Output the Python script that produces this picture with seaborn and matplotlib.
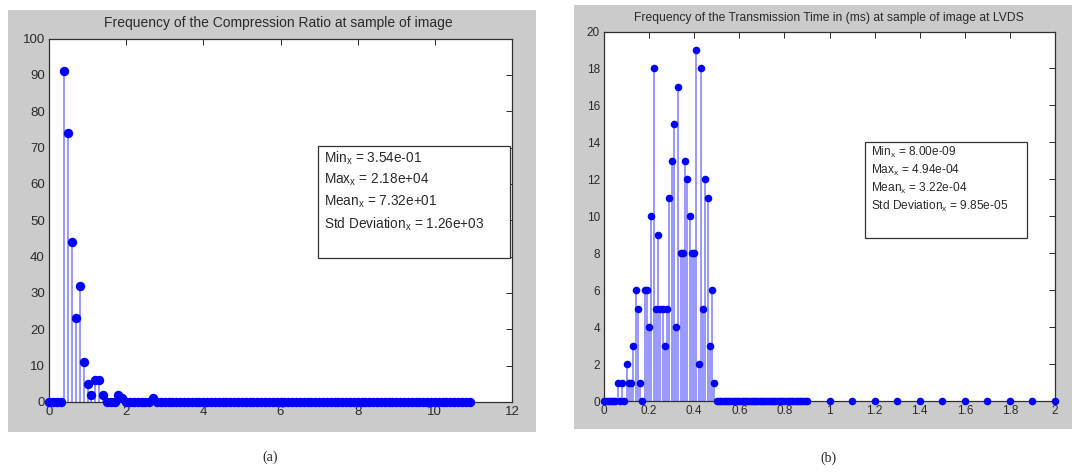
import numpy as np
import pandas as pd
import matplotlib
matplotlib.use("Agg")
import matplotlib.pyplot as plt
from matplotlib.patches import Rectangle
import seaborn as sns

# (a) frequency of the compression ratio, bins of 0.1 from 0 to 10.9
ratio_bins = np.round(np.arange(0, 10.95, 0.1), 1)
ratio_counts = [0, 0, 0, 0, 91, 74, 44, 23, 32, 11,
                5, 2, 6, 6, 2, 0, 0, 0, 2, 1,
                0, 0, 0, 0, 0, 0, 0, 1, 0, 0,
                0, 0, 0, 0, 0, 0, 0, 0, 0, 0,
                0, 0, 0, 0, 0, 0, 0, 0, 0, 0,
                0, 0, 0, 0, 0, 0, 0, 0, 0, 0,
                0, 0, 0, 0, 0, 0, 0, 0, 0, 0,
                0, 0, 0, 0, 0, 0, 0, 0, 0, 0,
                0, 0, 0, 0, 0, 0, 0, 0, 0, 0,
                0, 0, 0, 0, 0, 0, 0, 0, 0, 0,
                0, 0, 0, 0, 0, 0, 0, 0, 0, 0]
ratio_stats = ["Min$_{x}$ = 3.54e-01", "Max$_{x}$ = 2.18e+04",
               "Mean$_{x}$ = 7.32e+01", "Std Deviation$_{x}$ = 1.26e+03"]

# (b) frequency of the transmission time, fine bins up to 0.9 then coarse ones
time_bins = list(np.round(np.arange(0, 0.905, 0.01), 2)) + \
    [1.0, 1.1, 1.2, 1.3, 1.4, 1.5, 1.6, 1.7, 1.8, 1.9, 2.0]
time_counts = [0, 0, 0, 0, 0, 0, 1, 0, 1, 0,
               2, 1, 1, 3, 6, 5, 1, 0, 6, 6,
               4, 10, 18, 5, 9, 5, 5, 3, 5, 11,
               13, 15, 4, 17, 8, 8, 13, 12, 10, 8,
               8, 19, 2, 18, 5, 12, 11, 3, 6, 1,
               0, 0, 0, 0, 0, 0, 0, 0, 0, 0,
               0, 0, 0, 0, 0, 0, 0, 0, 0, 0,
               0, 0, 0, 0, 0, 0, 0, 0, 0, 0,
               0, 0, 0, 0, 0, 0, 0, 0, 0, 0,
               0,
               0, 0, 0, 0, 0, 0, 0, 0, 0, 0, 0]
time_stats = ["Min$_{x}$ = 8.00e-09", "Max$_{x}$ = 4.94e-04",
              "Mean$_{x}$ = 3.22e-04", "Std Deviation$_{x}$ = 9.85e-05"]

df_a = pd.DataFrame({"x": ratio_bins, "count": ratio_counts})
df_b = pd.DataFrame({"x": time_bins, "count": time_counts})

sns.set_style("white")
plt.rcParams["font.family"] = ["Liberation Sans", "DejaVu Sans"]
plt.rcParams["mathtext.default"] = "regular"

W, H = 1074, 472
fig = plt.figure(figsize=(W / 100, H / 100), dpi=100, facecolor="white")


def box(x0, y0, x1, y1):
    # pixel box (top-left origin) -> figure fraction rect
    return [x0 / W, 1 - y1 / H, (x1 - x0) / W, (y1 - y0) / H]


gray = "#cbcbcb"
for x0, y0, x1, y1 in [(8, 10, 536, 432), (574, 5, 1072, 429)]:
    r = box(x0, y0, x1, y1)
    fig.patches.append(Rectangle((r[0], r[1]), r[2], r[3], transform=fig.transFigure,
                                 facecolor=gray, edgecolor="none", zorder=-5))


def stem_panel(rect, df, xlim, ylim, xticks, yticks, xlabels, msize, fs):
    ax = fig.add_axes(rect)
    ax.set_zorder(1)
    ax.set_facecolor("white")
    ax.vlines(df["x"], 0, df["count"], color="#9090ff", lw=1.3, zorder=2)
    sns.scatterplot(data=df, x="x", y="count", ax=ax, color="#0000ff", s=msize,
                    linewidth=0, clip_on=False, zorder=3)
    ax.set_xlim(*xlim)
    ax.set_ylim(*ylim)
    ax.set_xticks(xticks)
    ax.set_xticklabels(xlabels)
    ax.set_yticks(yticks)
    ax.set_xlabel("")
    ax.set_ylabel("")
    ax.tick_params(direction="in", top=True, right=True, length=4, width=0.7,
                   labelsize=fs, colors="#2a2a2a", pad=3)
    for s in ax.spines.values():
        s.set_color("#303030")
        s.set_linewidth(0.9)
    return ax


ax1 = stem_panel(box(49, 38.5, 512, 402), df_a, (0, 12), (0, 100),
                 range(0, 13, 2), range(0, 101, 10),
                 [str(v) for v in range(0, 13, 2)], 46, 9.5)
ax2 = stem_panel(box(604, 31.5, 1055, 401), df_b, (0, 2), (0, 20),
                 np.round(np.arange(0, 2.01, 0.2), 1), range(0, 21, 2),
                 ["0", "0.2", "0.4", "0.6", "0.8", "1", "1.2", "1.4", "1.6", "1.8", "2"],
                 30, 8.5)

fig.text(278 / W, 1 - 23 / H, "Frequency of the Compression Ratio at sample of image",
         ha="center", va="center", fontsize=10, color="#2a2a2a")
fig.text(829 / W, 1 - 17.5 / H, "Frequency of the Transmission Time in (ms) at sample of image at LVDS",
         ha="center", va="center", fontsize=8.7, color="#2a2a2a")

# statistics boxes
for (x0, y0, x1, y1), lines, ys, fs in [
        ((318, 146, 510, 258), ratio_stats, [158, 180, 202, 224], 9.8),
        ((865, 142, 1027, 238), time_stats, [152, 170, 188, 206], 8.6)]:
    r = box(x0, y0, x1, y1)
    fig.patches.append(Rectangle((r[0], r[1]), r[2], r[3], transform=fig.transFigure,
                                 facecolor="white", edgecolor="#333333", lw=0.9, zorder=5))
    for t, y in zip(lines, ys):
        fig.text((x0 + 6) / W, 1 - y / H, t, ha="left", va="center", fontsize=fs,
                 color="#2a2a2a", zorder=6)

fig.text(270 / W, 1 - 457 / H, "(a)", ha="center", va="center", fontsize=10,
         family=["Liberation Serif", "DejaVu Serif"])
fig.text(828 / W, 1 - 458 / H, "(b)", ha="center", va="center", fontsize=10,
         family=["Liberation Serif", "DejaVu Serif"])

fig.savefig("out.png", dpi=100, facecolor="white")
